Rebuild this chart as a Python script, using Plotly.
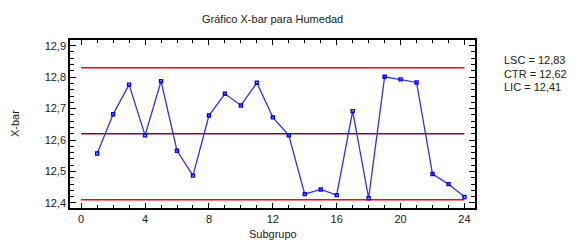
import plotly.graph_objects as go

subgrupo = list(range(1, 25))
xbar = [12.557, 12.682, 12.776, 12.615, 12.787, 12.566, 12.487, 12.678,
        12.747, 12.710, 12.782, 12.672, 12.615, 12.428, 12.443, 12.425,
        12.692, 12.415, 12.801, 12.793, 12.783, 12.492, 12.460, 12.419]
LSC = 12.83
CTR = 12.62
LIC = 12.41
limit_labels = ["LSC = 12,83", "CTR = 12,62", "LIC = 12,41"]

# page has an 8px body margin; compensate so that the plot lands where intended
OFF = 8
W, H = 583 - OFF, 247 - OFF
L, R, T, B = 70 - OFF, 475 - OFF, 40 - OFF, 208 - OFF

fig = go.Figure()
fig.add_trace(go.Scatter(x=[0, 24], y=[LSC, LSC], mode="lines",
                         line=dict(color="#ff0000", width=1.5), hoverinfo="skip"))
fig.add_trace(go.Scatter(x=[0, 24], y=[CTR, CTR], mode="lines",
                         line=dict(color="#800040", width=1.5), hoverinfo="skip"))
fig.add_trace(go.Scatter(x=[0, 24], y=[LIC, LIC], mode="lines",
                         line=dict(color="#ff0000", width=1.5), hoverinfo="skip"))
fig.add_trace(go.Scatter(x=subgrupo, y=xbar, mode="lines+markers",
                         line=dict(color="#3030ff", width=1.3),
                         marker=dict(symbol="square-open", size=3, color="#0000ff",
                                     line=dict(width=1.4, color="#0000ff"))))

font_color = "#222222"
fig.update_layout(
    width=W, height=H,
    margin=dict(l=L, r=W - R, t=T, b=H - B, autoexpand=False),
    paper_bgcolor="white", plot_bgcolor="white",
    showlegend=False,
    separators=",.",
    font=dict(family="Liberation Sans, Arial, sans-serif", size=11, color=font_color),
    xaxis=dict(range=[-0.7, 24.66], tickmode="linear", tick0=0, dtick=4,
               ticks="inside", ticklen=5, tickcolor="black", tickwidth=1,
               showline=True, linecolor="black", linewidth=1.5, mirror="allticks",
               showgrid=False, zeroline=False, automargin=False,
               minor=dict(dtick=1, ticks="inside", ticklen=3, tickcolor="black", showgrid=False),
               tickfont=dict(size=11)),
    yaxis=dict(range=[12.384, 12.918], tickmode="linear", tick0=12.4, dtick=0.1,
               tickformat=".1f",
               ticks="inside", ticklen=6, tickcolor="black", tickwidth=1,
               showline=True, linecolor="black", linewidth=1.5, mirror="allticks",
               showgrid=False, zeroline=False, automargin=False,
               minor=dict(dtick=0.02, ticks="inside", ticklen=4, tickcolor="black", showgrid=False),
               tickfont=dict(size=11)),
)

def px_x(page_x):
    return (page_x - OFF - L) / (R - L)

def px_y(page_y):
    return (B - (page_y - OFF)) / (B - T)

fig.add_annotation(text="Gráfico X-bar para Humedad", xref="paper", yref="paper",
                   x=0.5, xanchor="center", y=px_y(19), yanchor="middle",
                   showarrow=False, font=dict(size=11, color=font_color))
fig.add_annotation(text="Subgrupo", xref="paper", yref="paper",
                   x=0.5, xanchor="center", y=px_y(234), yanchor="middle",
                   showarrow=False, font=dict(size=11, color=font_color))
fig.add_annotation(text="X-bar", xref="paper", yref="paper", textangle=-90,
                   x=px_x(15), xanchor="center", y=0.5, yanchor="middle",
                   showarrow=False, font=dict(size=11, color=font_color))

for i, txt in enumerate(limit_labels):
    fig.add_annotation(text=txt, xref="paper", yref="paper",
                       x=px_x(502), xanchor="left",
                       y=px_y(60 + i * 13.5), yanchor="middle",
                       showarrow=False, font=dict(size=11, color=font_color))

fig.write_html("out.html")
